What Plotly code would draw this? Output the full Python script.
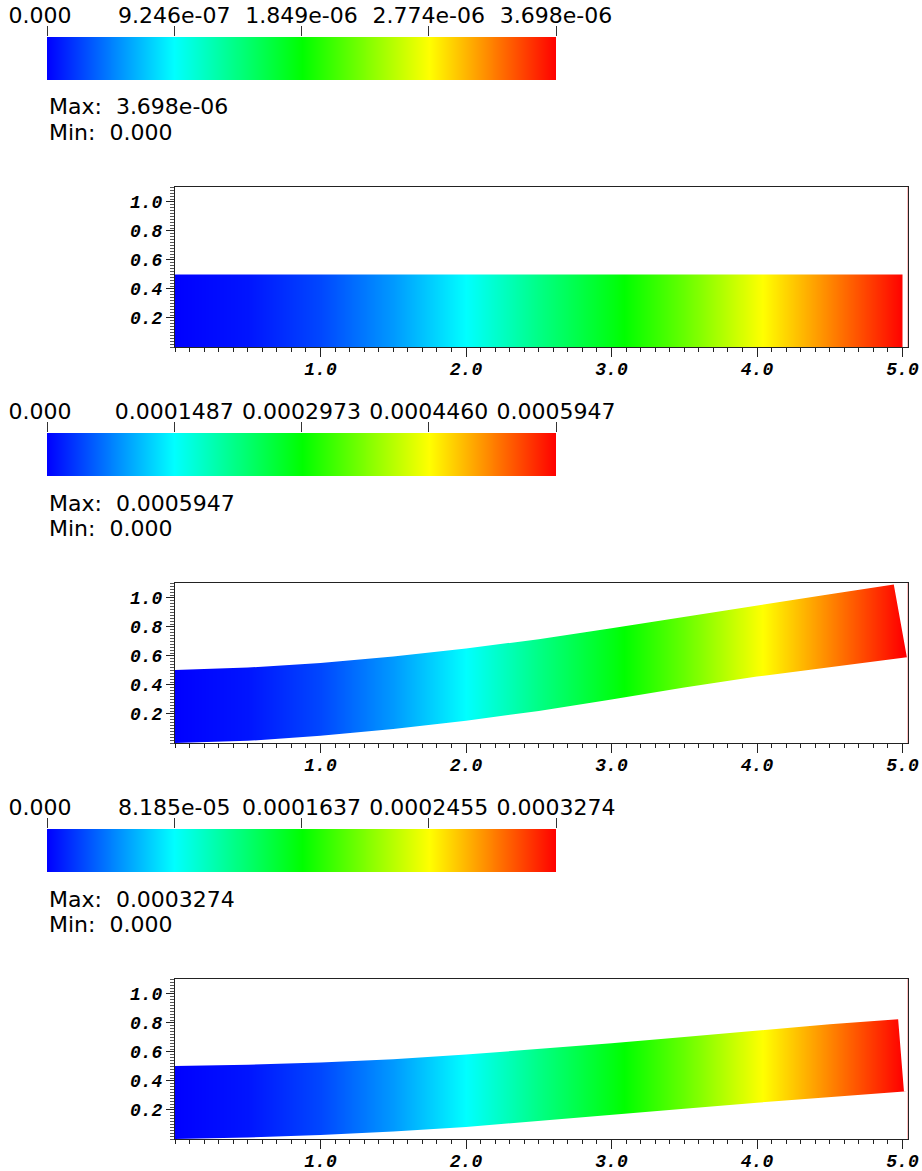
import plotly.graph_objects as go

W, H = 922, 1171

# ---------------- data ----------------
# normalised displacement-magnitude profile along the beam (read from colours)
profile_x = [0, 0.5, 1.0, 1.5, 2.0, 2.5, 3.0, 3.5, 4.0, 4.5, 5.0]
profile_frac = [0, 0.02, 0.07, 0.15, 0.25, 0.37, 0.48, 0.60, 0.74, 0.87, 1.0]

max_values = [3.698e-06, 0.0005947, 0.0003274]
cb_tick_frac = [0, 0.25, 0.5, 0.75, 1.0]
cb_labels = [
    ["0.000", "9.246e-07", "1.849e-06", "2.774e-06", "3.698e-06"],
    ["0.000", "0.0001487", "0.0002973", "0.0004460", "0.0005947"],
    ["0.000", "8.185e-05", "0.0001637", "0.0002455", "0.0003274"],
]
max_text = ["3.698e-06", "0.0005947", "0.0003274"]
min_text = ["0.000", "0.000", "0.000"]

edge_x = [0, 0.5, 1.0, 1.5, 2.0, 2.5, 3.0, 3.5, 4.0, 4.5]
# panel 1 (undeformed)
top_x1 = edge_x + [5.0]
top_y1 = [0.5] * 11
bot_x1 = edge_x + [5.0]
bot_y1 = [0.0] * 11
# panel 2
top_x2 = edge_x + [4.94]
top_y2 = [0.504, 0.52, 0.551, 0.596, 0.651, 0.716, 0.791, 0.871, 0.951, 1.026, 1.092]
bot_x2 = edge_x + [5.03]
bot_y2 = [0.0, 0.015, 0.05, 0.097, 0.153, 0.221, 0.3, 0.382, 0.458, 0.522, 0.591]
# panel 3
top_x3 = edge_x + [4.97]
top_y3 = [0.504, 0.512, 0.527, 0.55, 0.582, 0.62, 0.66, 0.704, 0.748, 0.791, 0.826]
bot_x3 = edge_x + [5.01]
bot_y3 = [0.0, 0.01, 0.027, 0.052, 0.083, 0.123, 0.165, 0.208, 0.25, 0.29, 0.328]

panels = [
    (top_x1, top_y1, bot_x1, bot_y1),
    (top_x2, top_y2, bot_x2, bot_y2),
    (top_x3, top_y3, bot_x3, bot_y3),
]

x_ticks = [1.0, 2.0, 3.0, 4.0, 5.0]
x_ticktext = ["1.0", "2.0", "3.0", "4.0", "5.0"]
y_ticks = [0.2, 0.4, 0.6, 0.8, 1.0]
y_ticktext = ["0.2", "0.4", "0.6", "0.8", "1.0"]

# ---------------- style / layout ----------------
colorscale = [
    [0.0, "rgb(0,0,255)"],
    [0.25, "rgb(0,255,255)"],
    [0.5, "rgb(0,255,0)"],
    [0.75, "rgb(255,255,0)"],
    [1.0, "rgb(255,0,0)"],
]
XR = [0, 5.035]
YR = [0, 1.103]
STEP = 396

label_font = dict(family="DejaVu Sans", size=22, color="black")
axis_font = dict(family="Liberation Mono", size=18, color="black",
                 weight="bold", style="italic")

def py(p):
    return 1 - p / H

fig = go.Figure()
layout = dict(
    width=W, height=H, margin=dict(l=0, r=0, t=0, b=0, autoexpand=False),
    paper_bgcolor="white", plot_bgcolor="white", showlegend=False,
    annotations=[],
)

for k in range(3):
    tx, ty, bx, by = panels[k]
    mx = max_values[k]
    pa = 2 * k + 1
    ca = 2 * k + 2
    sfx_p = "" if pa == 1 else str(pa)
    sfx_c = str(ca)

    # field
    z = [[f * mx for f in profile_frac] for _ in range(2)]
    fig.add_trace(go.Heatmap(
        x=profile_x, y=YR, z=z, zsmooth="best", colorscale=colorscale,
        zmin=0, zmax=mx, showscale=False, hoverinfo="skip",
        xaxis="x" + sfx_p, yaxis="y" + sfx_p))
    # white masks outside the deformed beam
    XB = XR[1] + 0.5
    YB = YR[1] + 0.5
    mxs = tx + [bx[-1], XB, XB, -0.3, -0.3]
    mys = ty + [by[-1], by[-1] - 0.1, YB, YB, ty[0]]
    fig.add_trace(go.Scatter(x=mxs, y=mys, mode="lines", fill="toself",
                             fillcolor="white", line=dict(width=0, color="white"),
                             hoverinfo="skip", xaxis="x" + sfx_p, yaxis="y" + sfx_p))
    mxs = bx + [XB, XB, -0.3, -0.3]
    mys = by + [by[-1], -0.5, -0.5, by[0]]
    fig.add_trace(go.Scatter(x=mxs, y=mys, mode="lines", fill="toself",
                             fillcolor="white", line=dict(width=0, color="white"),
                             hoverinfo="skip", xaxis="x" + sfx_p, yaxis="y" + sfx_p))

    # colour bar
    cb_vals = [f * mx for f in cb_tick_frac]
    fig.add_trace(go.Heatmap(
        x=cb_vals, y=[0, 1], z=[cb_vals, cb_vals], zsmooth="best",
        colorscale=colorscale, zmin=0, zmax=mx, showscale=False,
        hoverinfo="skip", xaxis="x" + sfx_c, yaxis="y" + sfx_c))
    # first label sits slightly left of its tick in the reference
    cb_text = [cb_labels[k][0] + "\u00a0\u00a0"] + cb_labels[k][1:]

    off = STEP * k
    layout["xaxis" + sfx_p] = dict(
        domain=[175 / W, (175 + 5.035 * 145.5) / W], range=XR,
        anchor="y" + sfx_p, showgrid=False, zeroline=False, automargin=False,
        showline=True, linecolor="#222", linewidth=1, mirror=True,
        tickmode="array", tickvals=x_ticks, ticktext=x_ticktext, tickangle=0,
        ticks="outside", ticklen=9, tickcolor="#222", tickwidth=1,
        ticklabelstandoff=-4,
        minor=dict(dtick=0.1, tick0=0, ticks="outside", ticklen=4,
                   tickcolor="#222", tickwidth=1, showgrid=False),
        tickfont=axis_font, fixedrange=True)
    layout["yaxis" + sfx_p] = dict(
        domain=[py(347 + off), py(187 + off)], range=YR,
        anchor="x" + sfx_p, showgrid=False, zeroline=False, automargin=False,
        showline=True, linecolor="#222", linewidth=1, mirror=True,
        tickmode="array", tickvals=y_ticks, ticktext=y_ticktext, tickangle=0,
        ticks="outside", ticklen=8, tickcolor="#222", tickwidth=1,
        minor=dict(dtick=0.02, tick0=0, ticks="outside", ticklen=4,
                   tickcolor="#555", tickwidth=1, showgrid=False),
        tickfont=axis_font, fixedrange=True)
    layout["xaxis" + sfx_c] = dict(
        domain=[47 / W, 556 / W], range=[0, mx], anchor="y" + sfx_c,
        side="top", showgrid=False, zeroline=False, showline=False,
        automargin=False, tickangle=0, ticklabelstandoff=-6,
        tickmode="array", tickvals=cb_vals, ticktext=cb_text,
        ticks="outside", ticklen=10, tickcolor="#333", tickwidth=1,
        tickfont=label_font, fixedrange=True)
    layout["yaxis" + sfx_c] = dict(
        domain=[py(80 + off), py(37 + off)], range=[0, 1], anchor="x" + sfx_c,
        visible=False, fixedrange=True, automargin=False)

    layout["annotations"].append(dict(
        xref="paper", yref="paper", x=47 / W, y=py(107 + off),
        xanchor="left", yanchor="middle", showarrow=False,
        text="Max:\u00a0\u00a0" + max_text[k], font=label_font))
    layout["annotations"].append(dict(
        xref="paper", yref="paper", x=47 / W, y=py(132 + off),
        xanchor="left", yanchor="middle", showarrow=False,
        text="Min:\u00a0\u00a0" + min_text[k], font=label_font))

fig.update_layout(**layout)
fig.write_html("out.html", config={"displayModeBar": False},
               post_script="document.body.style.margin='0';")
